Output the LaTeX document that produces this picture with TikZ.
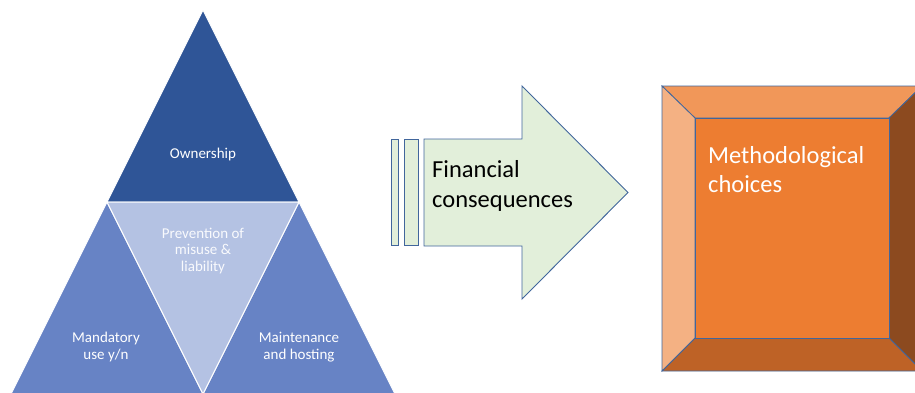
\documentclass[tikz,border=0pt]{standalone}
\usepackage{fontspec}
\setmainfont{Carlito}
\definecolor{topblue}{HTML}{2F5597}
\definecolor{sideblue}{HTML}{6783C5}
\definecolor{midblue}{HTML}{B4C2E3}
\definecolor{arrowgreen}{HTML}{E2EFDA}
\definecolor{edgeblue}{HTML}{41669C}
\definecolor{orcenter}{HTML}{ED7D31}
\definecolor{ortop}{HTML}{F19759}
\definecolor{orleft}{HTML}{F4B183}
\definecolor{orbottom}{HTML}{BE6226}
\definecolor{orright}{HTML}{8C4A1F}
\tikzset{
  tri/.style={draw=white, line width=1pt, line join=miter},
  trilabel/.style={text=white, align=center, font=\fontsize{15}{16.5}\selectfont, inner sep=0pt},
  arrowpart/.style={draw=edgeblue, fill=arrowgreen, line width=0.9pt},
  bevel/.style={draw=edgeblue, line width=0.8pt, line join=miter},
}
\begin{document}
\begin{tikzpicture}[x=1pt,y=-1pt]
\useasboundingbox (0,0) rectangle (915,392);
\clip (0,0) rectangle (915,392);
% pyramid
\coordinate (A) at (203,10);
\coordinate (L) at (107,202);
\coordinate (R) at (299,202);
\coordinate (BL) at (11,394);
\coordinate (BM) at (203,394);
\coordinate (BR) at (395,394);
\fill[topblue,tri] (A) -- (R) -- (L) -- cycle;
\fill[sideblue,tri] (L) -- (BM) -- (BL) -- cycle;
\fill[sideblue,tri] (R) -- (BR) -- (BM) -- cycle;
\fill[midblue,tri] (L) -- (R) -- (BM) -- cycle;
\node[trilabel] (own) at (203,154) {Ownership};
\node[trilabel, text=white!92!midblue] (prev) at (203,251) {Prevention of\\misuse \&\\liability};
\node[trilabel] (mand) at (106,347) {Mandatory\\use y/n};
\node[trilabel] (maint) at (299,347) {Maintenance\\and hosting};
% arrow
\draw[arrowpart] (391,139) rectangle (398,245);
\draw[arrowpart] (404,139) rectangle (418,245);
\draw[arrowpart, line join=miter] (424,139) -- (522,139) -- (522,86) -- (628,192.5) -- (522,299) -- (522,246) -- (424,246) -- cycle;
\node[anchor=west, align=left, font=\fontsize{24.5}{30}\selectfont, inner sep=0pt] (fin) at (432,186) {Financial\\consequences};
% bevel box
\coordinate (o1) at (662,86);
\coordinate (o2) at (922,86);
\coordinate (o3) at (922,371);
\coordinate (o4) at (662,371);
\coordinate (i1) at (695,118);
\coordinate (i2) at (889,118);
\coordinate (i3) at (889,338);
\coordinate (i4) at (695,338);
\filldraw[bevel, fill=ortop] (o1) -- (o2) -- (i2) -- (i1) -- cycle;
\filldraw[bevel, fill=orright] (o2) -- (o3) -- (i3) -- (i2) -- cycle;
\filldraw[bevel, fill=orbottom] (o3) -- (o4) -- (i4) -- (i3) -- cycle;
\filldraw[bevel, fill=orleft] (o4) -- (o1) -- (i1) -- (i4) -- cycle;
\filldraw[bevel, fill=orcenter] (i1) -- (i2) -- (i3) -- (i4) -- cycle;
\node[anchor=north west, align=left, text=white, font=\fontsize{24.5}{29}\selectfont, inner sep=0pt] (meth) at (708,146) {Methodological\\choices};
\end{tikzpicture}
\end{document}
